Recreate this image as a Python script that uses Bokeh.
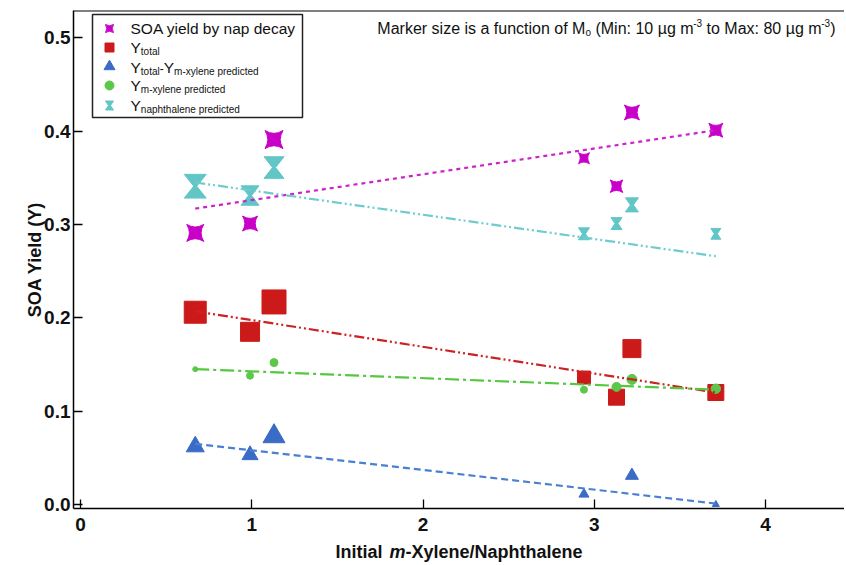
from bokeh.plotting import figure
from bokeh.layouts import column
from bokeh.models import (Range1d, FixedTicker, PrintfTickFormatter, Span, Label)
from bokeh.embed import file_html
from bokeh.resources import INLINE

# ---------------- data ----------------
ratio = [0.67, 0.99, 1.13, 2.94, 3.13, 3.22, 3.71]          # initial m-xylene / naphthalene
soa_nap_decay = [0.291, 0.301, 0.391, 0.371, 0.341, 0.420, 0.401]
y_total = [0.206, 0.185, 0.217, 0.136, 0.115, 0.167, 0.120]
y_total_minus_mx = [0.062, 0.053, 0.073, 0.011, float("nan"), 0.031, 0.000]
y_mx_pred = [0.145, 0.138, 0.152, 0.123, 0.126, 0.134, 0.124]
y_nap_pred = [0.341, 0.331, 0.361, 0.290, 0.301, 0.321, 0.290]

# linear trend lines: values at the first and last ratio
fit_x = [0.67, 3.71]
fit_soa = [0.317, 0.401]
fit_nap = [0.345, 0.266]
fit_total = [0.207, 0.120]
fit_mx = [0.145, 0.123]
fit_diff = [0.065, 0.001]

x_ticks = [0, 1, 2, 3, 4]
y_ticks = [0.0, 0.1, 0.2, 0.3, 0.4, 0.5]

# ---------------- styles ----------------
FONT = "Liberation Sans"
MAG, RED, BLUE, GREEN, CYAN = "#c800c8", "#cc1a1a", "#3a6bc6", "#5cc84a", "#62c6c6"
size_soa = [17, 15, 18, 11, 12.5, 15, 14]
size_total = [22, 19, 24, 13, 16, 18, 16]
size_diff = [18, 16, 22, 10, 8, 13, 7]
size_mx = [5, 7, 8, 7, 9, 10, 9.5]
size_nap = [22, 18, 20, 11, 11, 13, 10]

W = 844
LEFT, TOP = 73, 10
FW, FH = W - LEFT, 498
H1, H2 = 540, 23
PX_X = 171.25
PX_Y = 933.4
X0 = -7 / PX_X
X1 = X0 + FW / PX_X
Y0 = -4 / PX_Y
Y1 = Y0 + FH / PX_Y

p = figure(frame_width=FW, frame_height=FH,
           x_range=Range1d(X0, X1), y_range=Range1d(Y0, Y1),
           output_backend="svg", toolbar_location=None,
           min_border_left=LEFT, min_border_right=0, min_border_top=TOP,
           min_border_bottom=H1 - TOP - FH)
p.extra_x_ranges = {"px": Range1d(0, FW)}
p.extra_y_ranges = {"py": Range1d(0, FH)}
p.outline_line_color = None
p.grid.visible = False
p.background_fill_color = "white"
p.border_fill_color = "white"

for ax in (p.xaxis, p.yaxis):
    ax.axis_line_width = 1.5
    ax.axis_line_color = "black"
    ax.major_tick_in = 9
    ax.major_tick_out = 0
    ax.major_tick_line_width = 1.3
    ax.minor_tick_line_color = None
    ax.major_label_text_font = FONT
    ax.major_label_text_font_style = "bold"
    ax.major_label_text_font_size = "19px"
    ax.major_label_text_color = "#111111"

p.xaxis.ticker = FixedTicker(ticks=x_ticks)
p.xaxis.formatter = PrintfTickFormatter(format="%d")
p.xaxis.major_label_standoff = 9
p.yaxis.ticker = FixedTicker(ticks=y_ticks)
p.yaxis.formatter = PrintfTickFormatter(format="%.1f")
p.yaxis.major_label_standoff = 3
p.yaxis.axis_label = "SOA Yield (Y)"
p.yaxis.axis_label_text_font = FONT
p.yaxis.axis_label_text_font_style = "bold"
p.yaxis.axis_label_text_font_size = "18px"
p.yaxis.axis_label_text_color = "#111111"
p.yaxis.axis_label_standoff = -4

p.add_layout(Span(location=Y1, dimension="width", line_color="black", line_width=2))

# ---------------- markers ----------------
ux = (X1 - X0) / FW
uy = (Y1 - Y0) / FH


def hourglass(cx, cy, w, h, sx, sy, waist=1.5):
    xs = [cx - w / 2 * sx, cx + w / 2 * sx, cx + waist * sx,
          cx + w / 2 * sx, cx - w / 2 * sx, cx - waist * sx]
    ys = [cy + h / 2 * sy, cy + h / 2 * sy, cy,
          cy - h / 2 * sy, cy - h / 2 * sy, cy]
    return xs, ys


hx, hy = [], []
for xv, yv, s in zip(ratio, y_nap_pred, size_nap):
    a, b = hourglass(xv, yv, s, s * 1.08, ux, uy)
    hx.append(a)
    hy.append(b)
p.patches(xs=hx, ys=hy, fill_color=CYAN, line_color=CYAN, line_width=1)

p.scatter(x=ratio, y=soa_nap_decay, size=size_soa, marker="square_pin",
          fill_color=MAG, line_color=MAG)
p.scatter(x=ratio, y=y_total, size=size_total, marker="square",
          fill_color=RED, line_color=RED)
p.scatter(x=ratio, y=y_total_minus_mx, size=size_diff, marker="triangle",
          fill_color=BLUE, line_color=BLUE)
p.scatter(x=ratio, y=y_mx_pred, size=size_mx, marker="circle",
          fill_color=GREEN, line_color=GREEN)

# ---------------- trend lines ----------------
p.line(fit_x, fit_soa, line_color="#cc22cc", line_width=2.2, line_dash="4 4")
p.line(fit_x, fit_nap, line_color="#6fcccc", line_width=2.2, line_dash="10 3 2 3 2 3")
p.line(fit_x, fit_total, line_color="#cc2222", line_width=2.2, line_dash="10 3 2 3 2 3")
p.line(fit_x, fit_mx, line_color="#55c840", line_width=2.2, line_dash="14 4 3 4")
p.line(fit_x, fit_diff, line_color="#4a80d2", line_width=2.2, line_dash="7 4")

# ---------------- text helpers ----------------
REG = {' ': 278, '(': 333, ')': 333, '-': 333, '.': 278, '/': 278, ':': 278, 'µ': 556,
       'A': 667, 'M': 833, 'O': 778, 'S': 667, 'X': 667, 'Y': 667, 'N': 722, 'I': 278,
       'a': 556, 'b': 556, 'c': 500, 'd': 556, 'e': 556, 'f': 278, 'g': 556, 'h': 556,
       'i': 222, 'k': 500, 'l': 222, 'm': 833, 'n': 556, 'o': 556, 'p': 556, 'r': 333,
       's': 500, 't': 278, 'u': 556, 'x': 500, 'y': 500, 'z': 500}
BOLD = {' ': 278, '-': 333, '/': 278, 'I': 278, 'N': 722, 'X': 667, 'a': 556, 'e': 556,
        'h': 611, 'i': 278, 'l': 278, 'm': 889, 'n': 611, 'p': 611, 't': 333, 'y': 556}


def tw(s, size, bold=False):
    table = BOLD if bold else REG
    return sum(table.get(c, 556) for c in s) * size / 1000.0


def parts_width(parts):
    return sum(tw(t, sz, "bold" in st) for t, sz, dy, st in parts)


def rich(fig, parts, x, y, units="screen", color="#111111"):
    cx = x
    for t, sz, dy, st in parts:
        bold = "bold" in st
        lead = len(t) - len(t.lstrip(" "))
        cx += tw(" " * lead, sz, bold)
        body = t.strip(" ")
        fig.add_layout(Label(x=cx, y=y + dy, x_units=units, y_units=units, text=body,
                             text_font=FONT, text_font_size=f"{sz}px", text_font_style=st,
                             text_baseline="middle", text_align="left", text_color=color))
        cx += tw(t.lstrip(" "), sz, bold)


# ---------------- legend (frame pixel coordinates) ----------------
p.quad(left=19, right=229, bottom=391, top=494, x_range_name="px", y_range_name="py",
       fill_color="white", line_color="#222222", line_width=1.5)
rows = [480, 461, 441, 423, 403]
MX = 36
p.scatter(x=[MX], y=[rows[0]], x_range_name="px", y_range_name="py", size=8,
          marker="square_pin", fill_color=MAG, line_color=MAG)
p.scatter(x=[MX], y=[rows[1]], x_range_name="px", y_range_name="py", size=9,
          marker="square", fill_color=RED, line_color=RED)
p.scatter(x=[MX], y=[rows[2] + 1], x_range_name="px", y_range_name="py", size=11,
          marker="triangle", fill_color=BLUE, line_color=BLUE)
p.scatter(x=[MX], y=[rows[3]], x_range_name="px", y_range_name="py", size=9,
          marker="circle", fill_color=GREEN, line_color=GREEN)
lx, ly = hourglass(MX, rows[4], 8, 9, 1, 1, waist=1)
p.patches(xs=[lx], ys=[ly], x_range_name="px", y_range_name="py",
          fill_color=CYAN, line_color=CYAN)

TX, BIG, SUB = 57, 15.5, 10
N = "normal"
rich(p, [("SOA yield by nap decay", BIG, 0, N)], TX, rows[0])
rich(p, [("Y", BIG, 0, N), ("total", SUB, -4, N)], TX, rows[1])
rich(p, [("Y", BIG, 0, N), ("total", SUB, -4, N), ("-", 12, -1, N), ("Y", BIG, 0, N),
         ("m-xylene predicted", SUB, -4, N)], TX, rows[2])
rich(p, [("Y", BIG, 0, N), ("m-xylene predicted", SUB, -4, N)], TX, rows[3])
rich(p, [("Y", BIG, 0, N), ("naphthalene predicted", SUB, -4, N)], TX, rows[4])

# ---------------- note at top right ----------------
note = [("Marker size is a function of M", 16, 0, N), ("o", 10, -4, N),
        (" (Min: 10 µg m", 16, 0, N), ("-3", 10, 6, N),
        (" to Max: 80 µg m", 16, 0, N), ("-3", 10, 6, N), (")", 16, 0, N)]
rich(p, note, 762 - parts_width(note), 480)

# ---------------- x axis title with italic m (strip below the plot) ----------------
# the column aligns this strip's frame with the main frame, so x is frame-relative
p2 = figure(width=W, height=H2, x_range=Range1d(0, W), y_range=Range1d(0, H2),
            output_backend="svg", toolbar_location=None,
            min_border_left=0, min_border_right=0, min_border_top=0, min_border_bottom=0,
            x_axis_location=None, y_axis_location=None)
p2.outline_line_color = None
p2.grid.visible = False
xt = [("Initial ", 18, 0, "bold"), (" m", 8, 0, "bold italic"),
      ("-Xylene/Naphthalene", 18, 0, "bold")]
xt_w = parts_width([("Initial ", 18, 0, "bold"), ("m", 18, 0, "bold italic"),
                    ("-Xylene/Naphthalene", 18, 0, "bold")]) + 2
x_start = FW / 2 - xt_w / 2
rich(p2, [("Initial ", 18, 0, "bold")], x_start, 12)
m_x = x_start + tw("Initial ", 18, True) + 2
rich(p2, [("m", 18, 0, "bold italic")], m_x, 12)
rich(p2, [("-Xylene/Naphthalene", 18, 0, "bold")], m_x + tw("m", 18, True), 12)

layout = column(p, p2, spacing=0)
open("out.html", "w").write(file_html(layout, INLINE))
